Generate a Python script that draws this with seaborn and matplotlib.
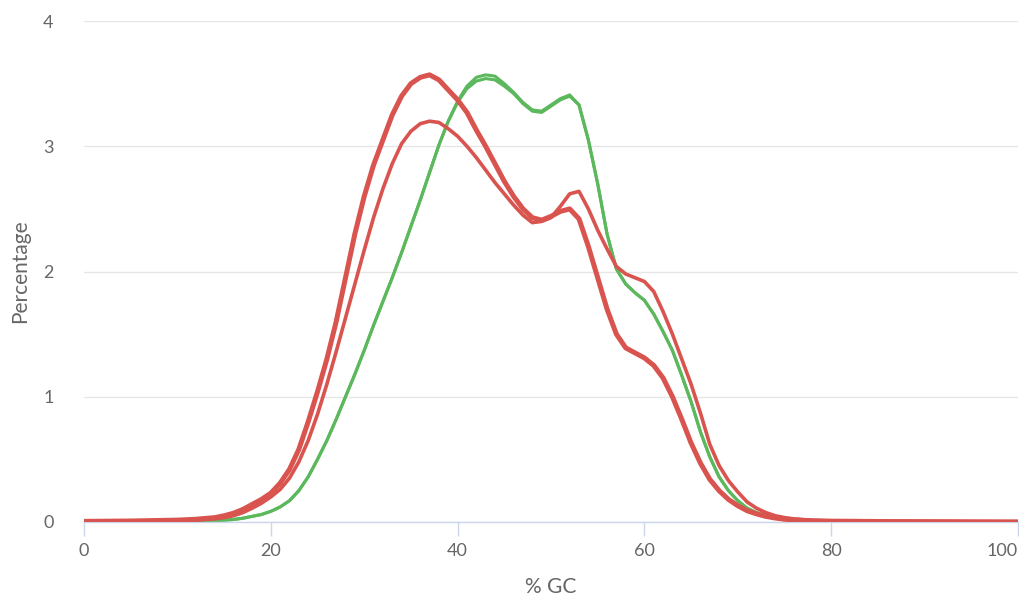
import numpy as np
import pandas as pd
import matplotlib
matplotlib.use("Agg")
import matplotlib.pyplot as plt
import seaborn as sns

# ---------------- data ----------------
gc_a = [0, 5, 10, 12, 14, 15, 16, 17, 18, 19, 20, 21, 22, 23, 24, 25, 26, 27, 28, 29,
        30, 31, 32, 33, 34, 35, 36, 37, 38, 39, 40, 41, 42, 43, 44, 45, 46, 47, 48, 49,
        50, 51, 52, 53, 54, 55, 56, 57, 58, 59, 60, 61, 62, 63, 64, 65, 66, 67, 68, 69,
        70, 71, 72, 73, 74, 75, 76, 78, 80, 85, 90, 100]
red_a = [0.005, 0.008, 0.015, 0.022, 0.035, 0.05, 0.07, 0.1, 0.14, 0.18, 0.23, 0.31, 0.42, 0.58, 0.8,
         1.04, 1.3, 1.6, 1.95, 2.3, 2.6, 2.85, 3.05, 3.25, 3.4, 3.5, 3.55, 3.57, 3.53, 3.45,
         3.37, 3.27, 3.13, 3.0, 2.86, 2.72, 2.6, 2.5, 2.43, 2.41, 2.44, 2.48, 2.5, 2.42, 2.2,
         1.95, 1.7, 1.5, 1.39, 1.35, 1.31, 1.25, 1.15, 1.0, 0.82, 0.63, 0.47, 0.34, 0.25, 0.18,
         0.13, 0.09, 0.065, 0.045, 0.032, 0.022, 0.016, 0.01, 0.007, 0.004, 0.003, 0.001]

gc_b = gc_a
red_b = [0.003, 0.005, 0.01, 0.015, 0.025, 0.035, 0.05, 0.075, 0.11, 0.15, 0.2, 0.26, 0.35, 0.48, 0.65,
         0.86, 1.1, 1.36, 1.63, 1.9, 2.17, 2.43, 2.66, 2.86, 3.02, 3.12, 3.18, 3.2, 3.19, 3.14,
         3.08, 3.0, 2.91, 2.81, 2.71, 2.62, 2.53, 2.45, 2.39, 2.4, 2.43, 2.52, 2.62, 2.64, 2.5,
         2.33, 2.18, 2.04, 1.98, 1.95, 1.92, 1.84, 1.68, 1.5, 1.3, 1.1, 0.87, 0.62, 0.45, 0.33,
         0.24, 0.16, 0.11, 0.075, 0.05, 0.035, 0.025, 0.013, 0.008, 0.004, 0.003, 0.001]

gc_g = gc_a
green_1 = [0.001, 0.002, 0.003, 0.005, 0.01, 0.015, 0.02, 0.03, 0.045, 0.06, 0.085, 0.12, 0.17, 0.25, 0.36,
           0.5, 0.65, 0.82, 1.0, 1.18, 1.37, 1.57, 1.76, 1.95, 2.15, 2.36, 2.57, 2.79, 3.01, 3.2,
           3.36, 3.48, 3.55, 3.57, 3.56, 3.5, 3.43, 3.35, 3.29, 3.28, 3.33, 3.38, 3.41, 3.33, 3.05,
           2.7, 2.3, 2.02, 1.9, 1.83, 1.77, 1.66, 1.52, 1.37, 1.17, 0.96, 0.72, 0.52, 0.36, 0.25,
           0.17, 0.11, 0.075, 0.05, 0.033, 0.022, 0.015, 0.008, 0.005, 0.003, 0.002, 0.001]
green_2 = [0.001, 0.002, 0.003, 0.005, 0.01, 0.015, 0.02, 0.03, 0.045, 0.06, 0.085, 0.12, 0.17, 0.25, 0.36,
           0.5, 0.65, 0.82, 1.0, 1.18, 1.37, 1.57, 1.76, 1.95, 2.15, 2.36, 2.57, 2.79, 3.01, 3.2,
           3.35, 3.46, 3.52, 3.54, 3.53, 3.48, 3.42, 3.34, 3.28, 3.27, 3.32, 3.37, 3.4, 3.33, 3.05,
           2.7, 2.3, 2.02, 1.9, 1.83, 1.77, 1.66, 1.52, 1.37, 1.17, 0.96, 0.72, 0.52, 0.36, 0.25,
           0.17, 0.11, 0.075, 0.05, 0.033, 0.022, 0.015, 0.008, 0.005, 0.003, 0.002, 0.001]

x_ticks = [0, 20, 40, 60, 80, 100]
y_ticks = [0, 1, 2, 3, 4]

RED = "#d9534f"
GREEN = "#5cb85c"

frames = []
for name, gx, gy in [("red_a", gc_a, red_a), ("red_b", gc_b, red_b),
                     ("green_1", gc_g, green_1), ("green_2", gc_g, green_2)]:
    frames.append(pd.DataFrame({"gc": gx, "pct": gy, "sample": name}))
df = pd.concat(frames, ignore_index=True)

# ---------------- figure ----------------
sns.set_theme(style="white")
plt.rcParams["font.family"] = ["Lato", "DejaVu Sans"]

fig = plt.figure(figsize=(10.2, 5.99), dpi=100)
ax = fig.add_axes([84 / 1020, 1 - 522 / 599, (1018 - 84) / 1020, (522 - 21) / 599])

palette = {"red_a": RED, "red_b": RED, "green_1": GREEN, "green_2": GREEN}
widths = {"red_a": 3.6, "red_b": 2.6, "green_1": 2.2, "green_2": 2.2}
order = ["green_1", "green_2", "red_b", "red_a"]
for s in order:
    sub = df[df["sample"] == s]
    sns.lineplot(data=sub, x="gc", y="pct", color=palette[s], lw=widths[s],
                 ax=ax, legend=False, estimator=None, sort=False,
                 zorder=3 if s.startswith("red") else 2)

ax.set_xlim(0, 100)
ax.set_ylim(0, 4)
ax.set_xticks(x_ticks)
ax.set_yticks(y_ticks)
ax.yaxis.grid(True, color="#e6e6e6", lw=1)
ax.xaxis.grid(False)
for side in ["top", "right", "left"]:
    ax.spines[side].set_visible(False)
ax.spines["bottom"].set_color("#ccd6eb")
ax.spines["bottom"].set_linewidth(1)
ax.tick_params(axis="x", colors="#ccd6eb", length=10, width=1, direction="out",
               labelcolor="#666666", labelsize=13, pad=5, bottom=True)
ax.tick_params(axis="y", length=0, labelcolor="#666666", labelsize=13, pad=22)
labels = ax.get_xticklabels()
labels[-1].set_horizontalalignment("right")

ax.set_xlabel("% GC", fontsize=15, color="#666666", labelpad=13)
ax.set_ylabel("Percentage", fontsize=15, color="#666666", labelpad=9)

fig.savefig("out.png", dpi=100, facecolor="white")
